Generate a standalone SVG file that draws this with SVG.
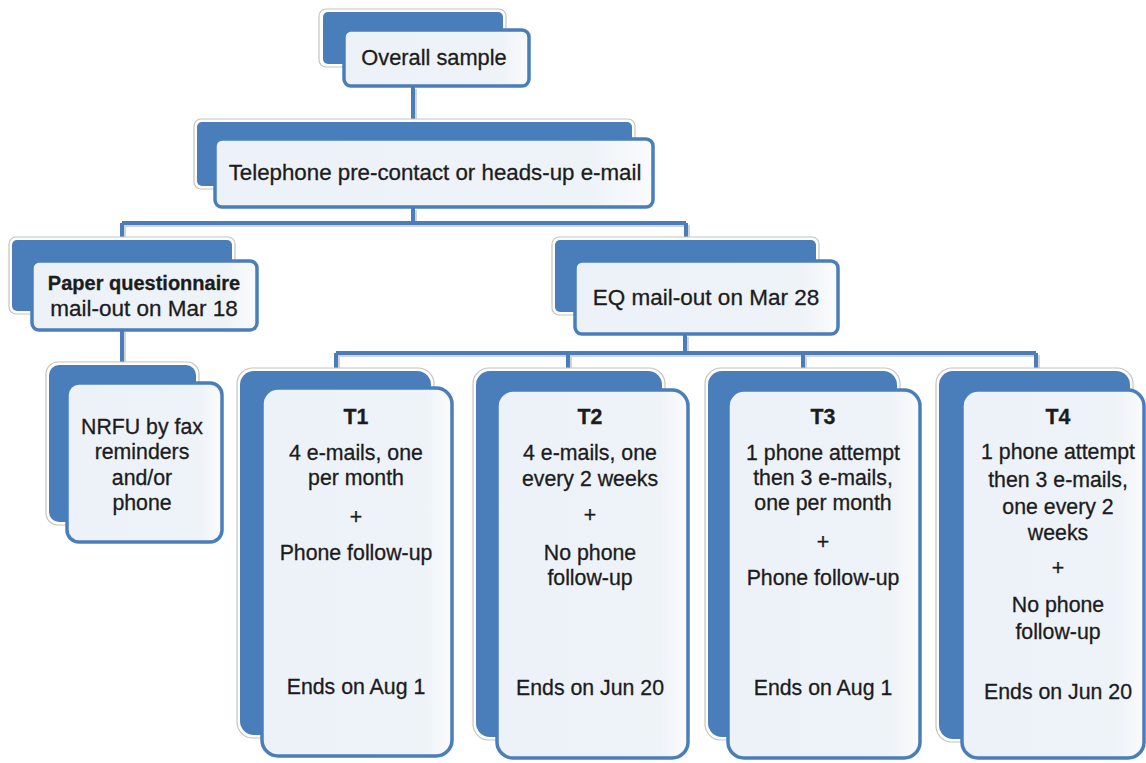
<svg xmlns="http://www.w3.org/2000/svg" width="1146" height="763" viewBox="0 0 1146 763">
<defs>
<linearGradient id="fg" x1="0" y1="0" x2="1" y2="0">
<stop offset="0" stop-color="#EDF2F8"/>
<stop offset="0.85" stop-color="#EEF3F8"/>
<stop offset="1" stop-color="#FAFBFD"/>
</linearGradient>
<style>
.bo{fill:#ffffff;stroke:#c4c4c4;stroke-width:1.2}
.bk{fill:#4A7EBB}
.fr{fill:url(#fg);stroke:#4A7EBB;stroke-width:3.5}
.cn{fill:none;stroke:#4A7EBB;stroke-width:4}
.cs{fill:none;stroke:#b8b8b8;stroke-width:4;opacity:0.6}
text{font-family:"Liberation Sans",Arial,sans-serif;font-size:21.3px;fill:#1c1c1c;stroke:#1c1c1c;stroke-width:0.3;text-anchor:middle}
.b{font-weight:bold}
.lg{font-size:22.5px}
</style>
</defs>
<rect width="1146" height="763" fill="#ffffff"/>
<g id="connectors">
<path class="cs" d="M415,89 V121 M415,210 V225 M124,225 H688 M124,225 V239 M688,225 V239 M124,332 V364 M687,337 V355 M338,355 H1038 M338,355 V371 M570,355 V371 M805,355 V371 M1038,355 V371"/>
<path class="cn" d="M413,87 V121 M413,208 V223 M122,223 H686 M122,223 V239 M686,223 V239 M122,330 V364 M685,335 V353 M336,353 H1036 M336,353 V371 M568,353 V371 M803,353 V371 M1036,353 V371"/>
</g>
<g id="overall">
<rect class="bo" x="319" y="9" width="187" height="58" rx="7"/>
<rect class="bk" x="323" y="12" width="180" height="52" rx="5"/>
<rect class="fr" x="344" y="30" width="185" height="56" rx="7"/>
<text x="434" y="65" style="font-size:21.8px">Overall sample</text>
</g>
<g id="telephone">
<rect class="bo" x="194" y="119" width="441" height="70" rx="7"/>
<rect class="bk" x="197" y="122" width="435" height="64" rx="5"/>
<rect class="fr" x="215" y="139" width="438" height="68" rx="7"/>
<text x="435" y="180" style="font-size:22.3px">Telephone pre-contact or heads-up e-mail</text>
</g>
<g id="paper">
<rect class="bo" x="9" y="237" width="226" height="77" rx="7"/>
<rect class="bk" x="12" y="240" width="220" height="71" rx="5"/>
<rect class="fr" x="32" y="261" width="225" height="69" rx="7"/>
<text class="b" x="144" y="290" style="font-size:20px">Paper questionnaire</text>
<text class="lg" x="144" y="316">mail-out on Mar 18</text>
</g>
<g id="nrfu">
<rect class="bo" x="46" y="362" width="153" height="163" rx="12"/>
<rect class="bk" x="49" y="365" width="147" height="157" rx="10"/>
<rect class="fr" x="67" y="383" width="155" height="159" rx="12"/>
<text x="142" y="434">NRFU by fax</text>
<text x="142" y="459">reminders</text>
<text x="142" y="485">and/or</text>
<text x="142" y="510">phone</text>
</g>
<g id="eq">
<rect class="bo" x="552" y="237" width="267" height="78" rx="7"/>
<rect class="bk" x="555" y="240" width="261" height="72" rx="5"/>
<rect class="fr" x="575" y="261" width="263" height="73" rx="7"/>
<text class="lg" x="706" y="305">EQ mail-out on Mar 28</text>
</g>
<g id="t1">
<rect class="bo" x="237" y="368" width="197" height="370" rx="16"/>
<rect class="bk" x="240" y="371" width="191" height="364" rx="14"/>
<rect class="fr" x="262" y="388" width="190" height="368" rx="16"/>
<text class="b" x="356" y="424">T1</text>
<text x="356" y="460">4 e-mails, one</text>
<text x="356" y="485">per month</text>
<text x="356" y="524">+</text>
<text x="356" y="560">Phone follow-up</text>
<text x="356" y="694">Ends on Aug 1</text>
</g>
<g id="t2">
<rect class="bo" x="473" y="368" width="192" height="372" rx="16"/>
<rect class="bk" x="476" y="371" width="186" height="366" rx="14"/>
<rect class="fr" x="497" y="390" width="191" height="368" rx="16"/>
<text class="b" x="590" y="424">T2</text>
<text x="590" y="460">4 e-mails, one</text>
<text x="590" y="486">every 2 weeks</text>
<text x="590" y="522">+</text>
<text x="590" y="560">No phone</text>
<text x="590" y="585">follow-up</text>
<text x="590" y="695">Ends on Jun 20</text>
</g>
<g id="t3">
<rect class="bo" x="705" y="368" width="195" height="372" rx="16"/>
<rect class="bk" x="708" y="371" width="189" height="366" rx="14"/>
<rect class="fr" x="728" y="390" width="192" height="368" rx="16"/>
<text class="b" x="823" y="424">T3</text>
<text x="823" y="460">1 phone attempt</text>
<text x="823" y="485">then 3 e-mails,</text>
<text x="823" y="510">one per month</text>
<text x="823" y="549">+</text>
<text x="823" y="585">Phone follow-up</text>
<text x="823" y="695">Ends on Aug 1</text>
</g>
<g id="t4">
<rect class="bo" x="936" y="368" width="197" height="374" rx="16"/>
<rect class="bk" x="939" y="371" width="191" height="368" rx="14"/>
<rect class="fr" x="962" y="390" width="182" height="368" rx="16"/>
<text class="b" x="1058" y="424">T4</text>
<text x="1058" y="459">1 phone attempt</text>
<text x="1058" y="487">then 3 e-mails,</text>
<text x="1058" y="514">one every 2</text>
<text x="1058" y="540">weeks</text>
<text x="1058" y="575">+</text>
<text x="1058" y="612">No phone</text>
<text x="1058" y="639">follow-up</text>
<text x="1058" y="699">Ends on Jun 20</text>
</g>
</svg>
